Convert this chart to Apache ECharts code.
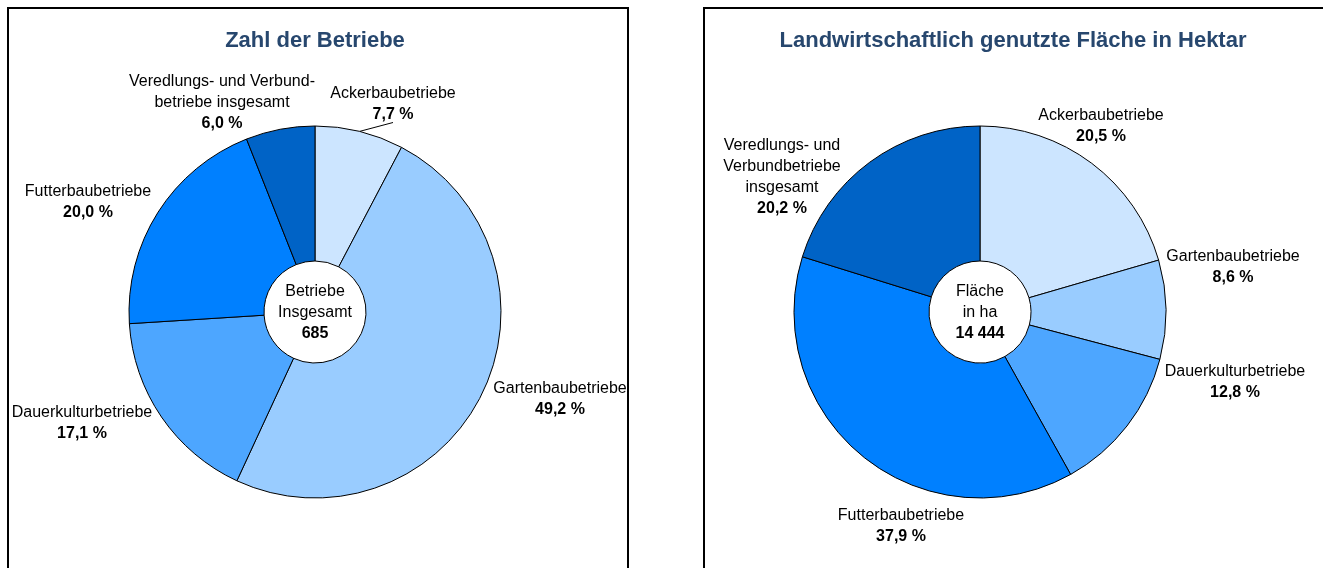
<!DOCTYPE html>
<html>
<head>
<meta charset="utf-8">
<script src="https://cdn.jsdelivr.net/npm/echarts@6/dist/echarts.min.js"></script>
<style>
  html, body { margin: 0; padding: 0; background: #fff; }
  #chart { width: 1323px; height: 568px; }
</style>
</head>
<body>
<div id="chart"></div>
<script>
// Anteile in Prozent, im Uhrzeigersinn ab 12 Uhr
const categories = ['Ackerbaubetriebe', 'Gartenbaubetriebe', 'Dauerkulturbetriebe', 'Futterbaubetriebe', 'Veredlungs- und Verbundbetriebe insgesamt']
const betriebeShare = [7.7, 49.2, 17.1, 20.0, 6.0]
const flaecheShare = [20.5, 8.6, 12.8, 37.9, 20.2]

// Beschriftungen wie im Original umbrochen
const betriebeLabels = ['Ackerbaubetriebe', 'Gartenbaubetriebe', 'Dauerkulturbetriebe', 'Futterbaubetriebe', 'Veredlungs- und Verbund-\nbetriebe insgesamt']
const flaecheLabels = ['Ackerbaubetriebe', 'Gartenbaubetriebe', 'Dauerkulturbetriebe', 'Futterbaubetriebe', 'Veredlungs- und\nVerbundbetriebe\ninsgesamt']

const titles = ['Zahl der Betriebe', 'Landwirtschaftlich genutzte Fläche in Hektar']
const centerLabels = [['Betriebe', 'Insgesamt'], ['Fläche', 'in ha']]
const centerTotals = ['685', '14 444']

const sliceColors = ['#CCE5FF', '#99CCFF', '#4DA6FF', '#0080FF', '#0063C6']

const FONT = "'Liberation Sans', Arial, sans-serif"
const pieCenters = [[315, 312], [980, 312]]

// Mittelpunkte der Beschriftungsblöcke
const labelAnchors = [
  [[393, 104], [560, 399], [82, 423], [88, 202], [222, 103]],
  [[1101, 126], [1233, 267], [1235, 382], [901, 526], [782, 177]]
]

const fmt = v => v.toFixed(1).replace('.', ',') + ' %'

function buildData (shares, labels, withLine) {
  return shares.map((v, i) => ({
    name: categories[i],
    value: v,
    labelText: labels[i],
    itemStyle: { color: sliceColors[i] },
    labelLine: { show: withLine && i === 0 }
  }))
}

const richText = {
  n: { fontFamily: FONT, fontSize: 16, color: '#000', lineHeight: 21, align: 'center' },
  v: { fontFamily: FONT, fontSize: 16, fontWeight: 'bold', color: '#000', lineHeight: 21, align: 'center' }
}

function pieSeries (idx, data) {
  return {
    type: 'pie',
    center: pieCenters[idx],
    radius: [51, 186],
    startAngle: 90,
    clockwise: true,
    avoidLabelOverlap: false,
    silent: true,
    emphasis: { disabled: true },
    itemStyle: { borderColor: '#000', borderWidth: 1 },
    labelLine: { length: 8, length2: 0, lineStyle: { color: '#000', width: 1 } },
    label: {
      show: true,
      position: 'outside',
      formatter: p => '{n|' + p.data.labelText.split('\n').join('}\n{n|') + '}\n{v|' + fmt(p.value) + '}',
      rich: richText
    },
    labelLayout: p => {
      const a = labelAnchors[idx][p.dataIndex]
      return { x: a[0], y: a[1], align: 'center', verticalAlign: 'middle' }
    },
    data
  }
}

const chart = echarts.init(document.getElementById('chart'), null, { renderer: 'canvas' })

chart.setOption({
  animation: false,
  title: titles.map((t, i) => ({
    text: t,
    left: pieCenters[i][0] + (i === 1 ? 33 : 0),
    top: 30,
    textAlign: 'center',
    padding: 0,
    textStyle: { fontFamily: FONT, fontSize: 22, fontWeight: 'bold', color: '#27476E' }
  })),
  graphic: [
    { type: 'rect', shape: { x: 8, y: 8, width: 620, height: 600 }, style: { fill: 'none', stroke: '#000', lineWidth: 2 }, z: 0 },
    { type: 'rect', shape: { x: 704, y: 8, width: 700, height: 600 }, style: { fill: 'none', stroke: '#000', lineWidth: 2 }, z: 0 },
    ...centerLabels.map((lines, i) => ({
      type: 'text',
      x: pieCenters[i][0],
      y: pieCenters[i][1] + 1,
      z: 100,
      style: {
        text: '{n|' + lines.join('}\n{n|') + '}\n{v|' + centerTotals[i] + '}',
        align: 'center',
        verticalAlign: 'middle',
        rich: {
          n: { fontFamily: FONT, fontSize: 16, lineHeight: 21, fill: '#000', align: 'center' },
          v: { fontFamily: FONT, fontSize: 16, fontWeight: 'bold', lineHeight: 21, fill: '#000', align: 'center' }
        }
      }
    }))
  ],
  series: [
    pieSeries(0, buildData(betriebeShare, betriebeLabels, true)),
    pieSeries(1, buildData(flaecheShare, flaecheLabels, false))
  ]
})
</script>
</body>
</html>
